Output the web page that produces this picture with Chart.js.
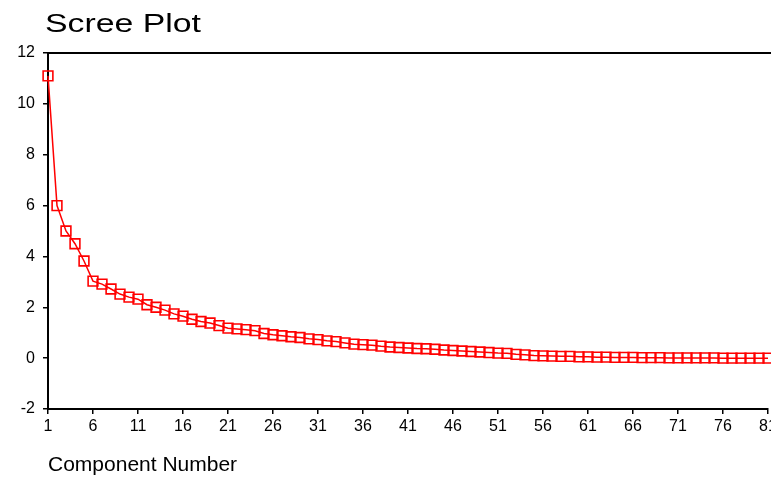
<!DOCTYPE html>
<html>
<head>
<meta charset="utf-8">
<script src="https://cdn.jsdelivr.net/npm/chart.js@4.4.1/dist/chart.umd.min.js"></script>
<style>
  html, body { margin: 0; padding: 0; background: #fff; }
</style>
</head>
<body>
<canvas id="scree" width="771" height="481"></canvas>
<script>
var chartTitle = "Scree Plot";
var xTitle = "Component Number";

// component numbers 1..81
var components = [];
for (var i = 1; i <= 81; i++) components.push(String(i));

var tickLabels = ["1","6","11","16","21","26","31","36","41","46","51","56","61","66","71","76","81"];

// eigenvalues
var eigenvalues = [
  11.1, 6.0, 5.0, 4.5, 3.82, 3.03, 2.91, 2.72, 2.52, 2.40,
  2.32, 2.10, 2.00, 1.89, 1.74, 1.65, 1.53, 1.44, 1.38, 1.28,
  1.18, 1.15, 1.12, 1.08, 0.97, 0.92, 0.88, 0.84, 0.81, 0.76,
  0.73, 0.68, 0.65, 0.60, 0.55, 0.53, 0.51, 0.47, 0.44, 0.42,
  0.40, 0.38, 0.37, 0.35, 0.32, 0.30, 0.28, 0.26, 0.24, 0.22,
  0.20, 0.19, 0.15, 0.13, 0.10, 0.09, 0.08, 0.07, 0.07, 0.05,
  0.05, 0.04, 0.04, 0.03, 0.03, 0.03, 0.02, 0.02, 0.02, 0.01,
  0.01, 0.01, 0.01, 0.01, 0.01, 0.00, 0.00, 0.00, 0.00, 0.00,
  0.00
];

var fontFamily = '"Liberation Sans", Arial, sans-serif';

// title + top frame line, and let the x axis run almost to the edge (81 gets clipped like the original)
var frame = {
  id: 'frame',
  afterLayout: function (chart) {
    var a = chart.chartArea, xs = chart.scales.x;
    var r = chart.width - 3;
    a.right = r;
    a.width = r - a.left;
    xs.right = r;
    xs.width = r - xs.left;
    xs.configure();
  },
  afterDraw: function (chart) {
    var c = chart.ctx, a = chart.chartArea;
    c.save();
    c.strokeStyle = '#000';
    c.lineWidth = 2;
    c.beginPath();
    c.moveTo(a.left - 1, a.top);
    c.lineTo(chart.width, a.top);
    c.stroke();
    c.fillStyle = '#000';
    c.font = '26px ' + fontFamily;
    c.textBaseline = 'alphabetic';
    c.translate(a.left - 3, 32);
    c.scale(1.3, 1);
    c.fillText(chartTitle, 0, 0);
    c.restore();
  }
};

var isLabelled = function (idx) { return tickLabels.indexOf(components[idx]) >= 0; };

new Chart(document.getElementById("scree"), {
  type: 'line',
  data: {
    labels: components,
    datasets: [{
      data: eigenvalues,
      borderColor: '#ff0000',
      borderWidth: 1.5,
      tension: 0,
      fill: false,
      clip: false,
      pointStyle: 'rect',
      pointRadius: 6.9,
      pointBorderWidth: 1.6,
      pointBorderColor: '#ff0000',
      pointBackgroundColor: 'rgba(0,0,0,0)'
    }]
  },
  options: {
    responsive: false,
    animation: false,
    devicePixelRatio: 1,
    layout: { padding: { top: 53, left: 0, right: 0, bottom: 0 } },
    plugins: {
      legend: { display: false },
      tooltip: { enabled: false },
      title: { display: false }
    },
    scales: {
      x: {
        type: 'category',
        offset: false,
        border: { display: true, color: '#000', width: 2 },
        grid: {
          drawOnChartArea: false,
          drawTicks: true,
          tickLength: 5,
          lineWidth: 1.5,
          color: function (ctx) { return isLabelled(ctx.index) ? '#000' : 'rgba(0,0,0,0)'; }
        },
        ticks: {
          autoSkip: false,
          maxRotation: 0,
          padding: 3,
          color: '#000',
          font: { family: fontFamily, size: 16 },
          callback: function (v, idx) { return isLabelled(idx) ? components[idx] : ''; }
        },
        title: {
          display: true,
          text: xTitle,
          align: 'start',
          color: '#000',
          font: { family: fontFamily, size: 21 },
          padding: { top: 0, bottom: 3 }
        },
        afterFit: function (s) { s.height = 72; }
      },
      y: {
        min: -2,
        max: 12,
        border: { display: true, color: '#000', width: 2 },
        grid: { drawOnChartArea: false, tickLength: 5, lineWidth: 1.5, color: '#000' },
        ticks: {
          stepSize: 2,
          padding: 8,
          color: '#000',
          font: { family: fontFamily, size: 16 }
        },
        afterFit: function (s) { s.width = 48; }
      }
    }
  },
  plugins: [frame]
});
</script>
</body>
</html>
